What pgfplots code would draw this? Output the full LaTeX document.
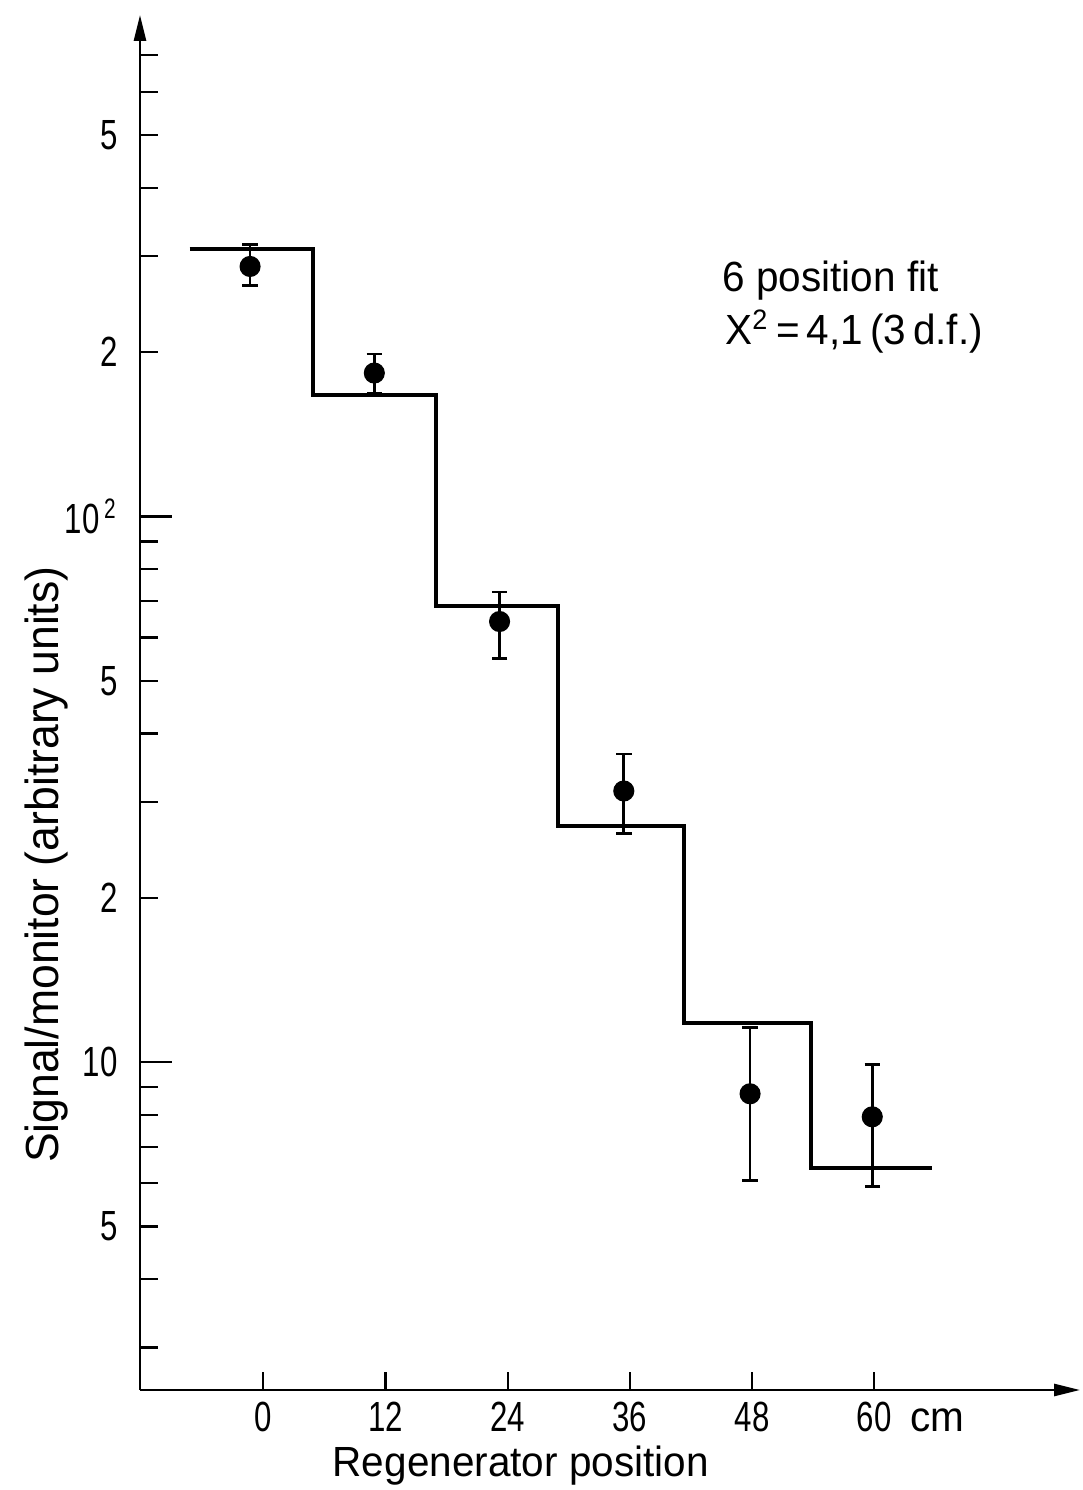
\documentclass[border=0pt]{standalone}
\usepackage{fontspec}
\setmainfont[FakeStretch=0.96]{Liberation Sans}
\newfontfamily\numfont[FakeStretch=0.74]{Liberation Sans}
\usepackage{pgfplots}
\usepackage{pgfplotstable}
\pgfplotsset{compat=1.18}
\usetikzlibrary{arrows.meta}

% measured points: position, signal, upper and lower error
\pgfplotstableread{
x     y      ep    em
-1.3  287.2  27.5  22.1
10.9  183.2  15.3  14.8
23.2  64.2   8.5   9.2
35.4  31.4   5.3   5.2
47.8  8.75   2.81  2.69
59.8  7.94   1.95  2.03
}\datapts

% 6 position fit (step levels, left edges)
\pgfplotstableread{
x      y
-7.24  309.2
4.91   166.7
16.93  68.6
28.95  27.1
41.3   11.8
53.8   6.40
65.7   6.40
}\fitsteps

\begin{document}
\begin{tikzpicture}[font=\fontsize{12}{14}\selectfont]
\begin{axis}[
  name=ax, at={(0,0)}, anchor=south west,
  scale only axis, width=9.40cm, height=13.75cm,
  xmin=-12.11, xmax=80.2,
  ymode=log, ymin=2.507, ymax=830,
  axis x line=bottom, axis y line=left,
  axis line style={line width=0.75pt, -{Triangle[length=0.26cm,width=0.12cm]}},
  tick align=inside,
  tick style={line width=0.65pt, black},
  major tick length=0.18cm, minor tick length=0.18cm,
  xtick={0,12,24,36,48,60},
  xticklabels={0,12,24,36,48,{60\rlap{\hspace{0.19cm}\rmfamily cm}}},
  ytick={5,20,50,200,500},
  yticklabels={5,2,5,2,5},
  minor ytick={3,4,6,7,8,9,30,40,60,70,80,90,300,400,600,700},
  extra y ticks={10,100},
  extra y tick labels={10,{10\textsuperscript{\,2}}},
  extra y tick style={major tick length=0.32cm},
  ticklabel style={font=\numfont\fontsize{12}{14}\selectfont},
  /pgf/number format/assume math mode=true,
  yticklabel style={xshift=-0.1cm},
  xlabel={Regenerator position},
  ylabel={Signal/monitor (arbitrary units)},
  xlabel style={at={(axis description cs:0.405,-0.0553)}, anchor=center},
  ylabel style={at={(axis description cs:-0.099,0.382)}, anchor=center,
                font=\fontsize{13.2}{15}\selectfont},
  clip=false,
]
\addplot[const plot, line width=1.15pt, black, line join=miter]
  table[x=x, y=y]{\fitsteps};
\addplot[only marks, mark=*, mark size=2.8pt, black,
  error bars/.cd, y dir=both, y explicit,
  error mark=|, error mark options={mark size=2.2pt, line width=0.8pt},
  error bar style={line width=0.75pt}]
  table[x=x, y=y, y error plus=ep, y error minus=em]{\datapts};
\node[anchor=base west, inner sep=0pt] at (axis description cs:0.619,0.7988) {6 position fit};
\node[anchor=base west, inner sep=0pt] at (axis description cs:0.622,0.760)
  {X\textsuperscript{2}\,=\,4,1\,(3\,d.f.)};
\end{axis}
\pgfresetboundingbox
\useasboundingbox (ax.south west) ++(-1.40cm,-1.00cm) rectangle ++(10.83cm,14.90cm);
\end{tikzpicture}
\end{document}
